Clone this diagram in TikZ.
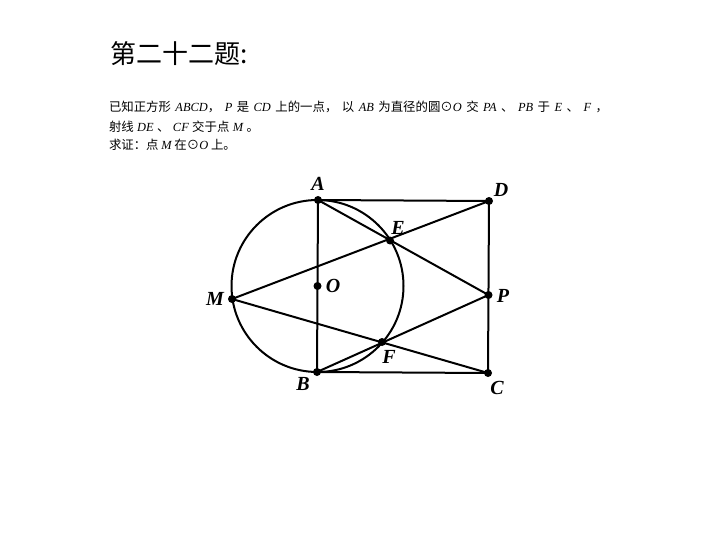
\documentclass[tikz,border=0pt]{standalone}
\usepackage{fontspec}
\setmainfont{Liberation Serif}
\newfontfamily\cjk{Noto Sans CJK SC}
\newfontfamily\lat{Liberation Serif}
\newcommand\mi[1]{{\lat\itshape #1}}
\usetikzlibrary{calc}
\begin{document}
\begin{tikzpicture}[x=1pt,y=-1pt, line width=2pt,
 dotpt/.style={circle,fill=black,inner sep=0pt,minimum size=8pt},
 lbl/.style={font=\lat\fontsize{20}{20}\selectfont\bfseries\itshape, inner sep=0pt},
 body/.style={anchor=base west, inner sep=0pt, font=\fontsize{12.4}{14}\selectfont\cjk}]
\useasboundingbox[fill=white] (0,0) rectangle (720,540);
\node[anchor=west, inner sep=0pt, font=\fontsize{26}{26}\selectfont\cjk] (title) at (109,54) {第二十二题:};
\node[body] (l1) at (108,112) {\hbox to 499pt{已知正方形 \mi{ABCD}， \mi{P} 是 \mi{CD} 上的一点， 以 \mi{AB} 为直径的圆⊙\mi{O} 交 \mi{PA} 、 \mi{PB} 于 \mi{E} 、 \mi{F} ，}};
\node[body] (l2) at (108,132) {\hbox to 150pt{射线 \mi{DE} 、 \mi{CF} 交于点 \mi{M} 。}};
\node[body] (l3) at (108,150) {求证：点 \mi{M} 在⊙\mi{O} 上。};

\coordinate (A) at (318,200);
\coordinate (B) at (317,372);
\coordinate (C) at (488,373);
\coordinate (D) at (489,201);
\coordinate (P) at (488.5,295);
\coordinate (O) at ($(A)!0.5!(B)$);
\coordinate (E) at (390,240.5);
\coordinate (F) at (382,342);
\coordinate (M) at (232,299);

\draw (O) circle[radius=86pt];
\draw (A) -- (D) -- (C) -- (B) -- cycle;
\draw (A) -- (P) -- (B);
\draw (D) -- (M) -- (C);

\foreach \p in {A,B,C,D,P,O,E,F,M} \node[dotpt] at (\p) {};

\node[lbl] (lA) at (318,184) {A};
\node[lbl] (lD) at (501,190) {D};
\node[lbl] (lE) at (398,228) {E};
\node[lbl] (lO) at (333,286) {O};
\node[lbl] (lM) at (215,299) {M};
\node[lbl] (lP) at (503,296) {P};
\node[lbl] (lF) at (389,357) {F};
\node[lbl] (lB) at (303,384) {B};
\node[lbl] (lC) at (497,388) {C};
\end{tikzpicture}
\end{document}
